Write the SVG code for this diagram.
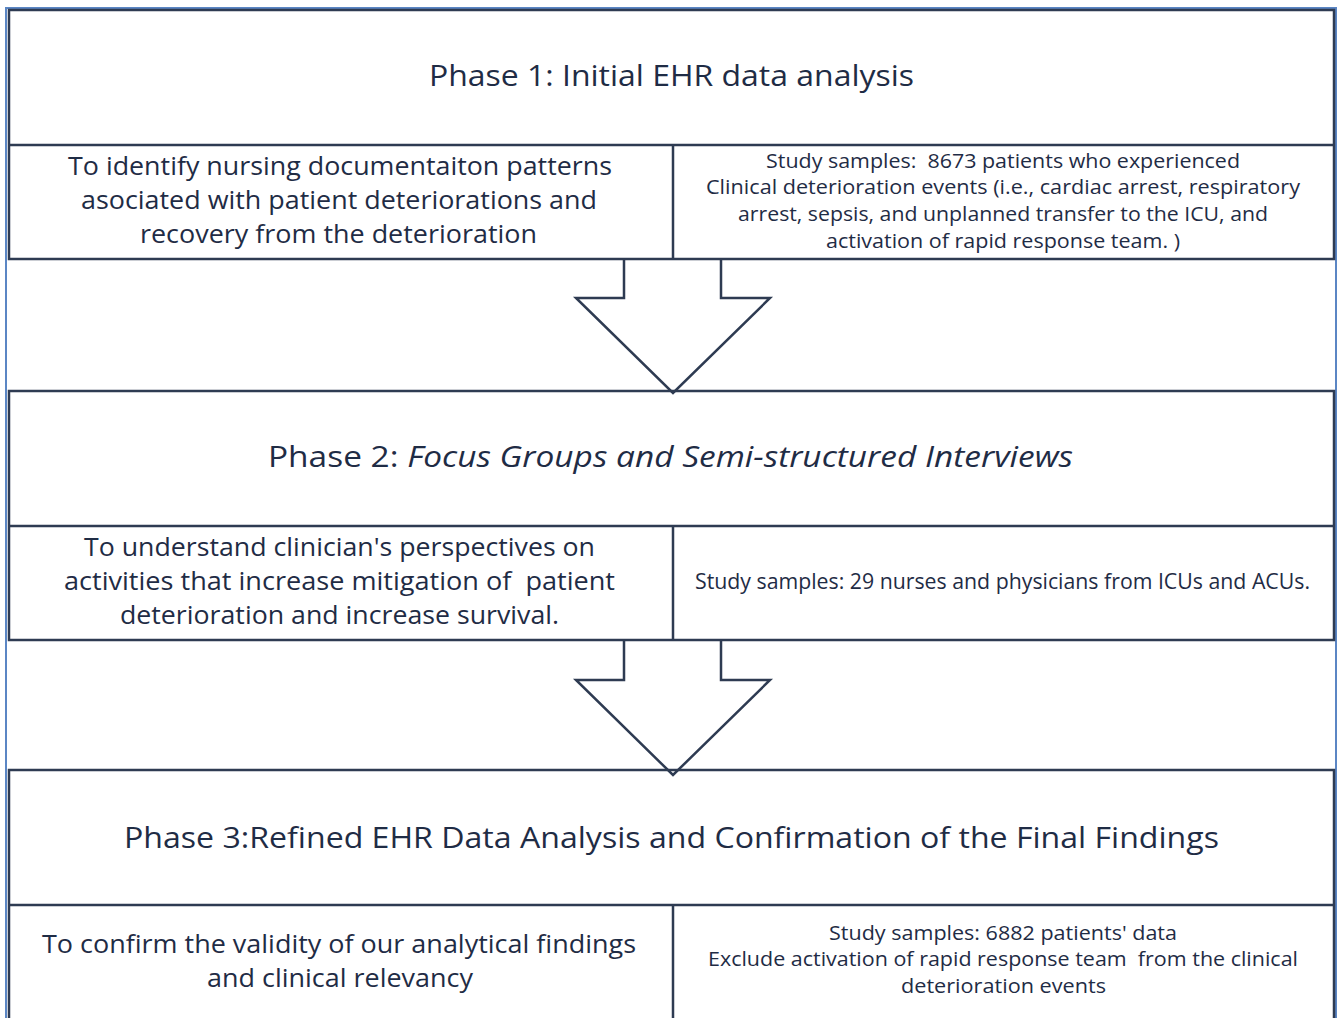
<svg xmlns="http://www.w3.org/2000/svg" width="1342" height="1018" viewBox="0 0 1342 1018">
<style>
.ln{fill:none;stroke:#2e3b52;stroke-width:2.5}
.blue{fill:none;stroke:#5b86c4;stroke-width:2}
.arrow{fill:#ffffff;stroke:#2e3b52;stroke-width:2.5;stroke-linejoin:miter}
text{font-family:"Open Sans","Noto Sans",sans-serif;fill:#1f2c45}
.t{font-size:30px}
.m{font-size:26px}
.s{font-size:21px}
.xs{font-size:20px}
.i{font-style:italic}
</style>
<rect width="1342" height="1018" fill="#ffffff"/>
<rect class="blue" x="6" y="8" width="1330" height="1020"/>
<g id="connectors">
<path class="arrow" d="M624,259 L624,298 L576,298 L673,393 L770,298 L721,298 L721,259"/>
<path class="arrow" d="M624,640 L624,680 L576,680 L673,775 L770,680 L721,680 L721,640"/>
</g>
<g id="phase1">
<rect class="ln" x="9" y="10" width="1325" height="249"/>
<line class="ln" x1="9" y1="145" x2="1334" y2="145"/>
<line class="ln" x1="673" y1="145" x2="673" y2="259"/>
<text class="t" x="429" y="86" textLength="485" lengthAdjust="spacingAndGlyphs">Phase 1: Initial EHR data analysis</text>
<text class="m" x="68" y="175" textLength="544" lengthAdjust="spacingAndGlyphs">To identify nursing documentaiton patterns</text>
<text class="m" x="81" y="209" textLength="516" lengthAdjust="spacingAndGlyphs">asociated with patient deteriorations and</text>
<text class="m" x="140" y="243" textLength="397" lengthAdjust="spacingAndGlyphs">recovery from the deterioration</text>
<text class="xs" x="766" y="168" textLength="474" lengthAdjust="spacingAndGlyphs" xml:space="preserve">Study samples:  8673 patients who experienced</text>
<text class="xs" x="706" y="194" textLength="594" lengthAdjust="spacingAndGlyphs">Clinical deterioration events (i.e., cardiac arrest, respiratory</text>
<text class="xs" x="738" y="221" textLength="530" lengthAdjust="spacingAndGlyphs">arrest, sepsis, and unplanned transfer to the ICU, and</text>
<text class="xs" x="826" y="248" textLength="354" lengthAdjust="spacingAndGlyphs">activation of rapid response team. )</text>
</g>
<g id="phase2">
<rect class="ln" x="9" y="391" width="1325" height="249"/>
<line class="ln" x1="9" y1="526" x2="1334" y2="526"/>
<line class="ln" x1="673" y1="526" x2="673" y2="640"/>
<text class="t" x="268" y="467" textLength="805" lengthAdjust="spacingAndGlyphs">Phase 2: <tspan class="i">Focus Groups and Semi-structured Interviews</tspan></text>
<text class="m" x="84" y="556" textLength="511" lengthAdjust="spacingAndGlyphs">To understand clinician's perspectives on</text>
<text class="m" x="64" y="590" textLength="551" lengthAdjust="spacingAndGlyphs" xml:space="preserve">activities that increase mitigation of  patient</text>
<text class="m" x="120" y="624" textLength="439" lengthAdjust="spacingAndGlyphs">deterioration and increase survival.</text>
<text class="s" x="695" y="589" textLength="615" lengthAdjust="spacingAndGlyphs">Study samples: 29 nurses and physicians from ICUs and ACUs.</text>
</g>
<g id="phase3">
<rect class="ln" x="9" y="770" width="1325" height="260"/>
<line class="ln" x1="9" y1="905" x2="1334" y2="905"/>
<line class="ln" x1="673" y1="905" x2="673" y2="1018"/>
<text class="t" x="124" y="848" textLength="1095" lengthAdjust="spacingAndGlyphs">Phase 3:Refined EHR Data Analysis and Confirmation of the Final Findings</text>
<text class="m" x="42" y="953" textLength="594" lengthAdjust="spacingAndGlyphs">To confirm the validity of our analytical findings</text>
<text class="m" x="207" y="987" textLength="266" lengthAdjust="spacingAndGlyphs">and clinical relevancy</text>
<text class="xs" x="829" y="940" textLength="348" lengthAdjust="spacingAndGlyphs">Study samples: 6882 patients' data</text>
<text class="xs" x="708" y="966" textLength="590" lengthAdjust="spacingAndGlyphs" xml:space="preserve">Exclude activation of rapid response team  from the clinical</text>
<text class="xs" x="901" y="993" textLength="205" lengthAdjust="spacingAndGlyphs">deterioration events</text>
</g>
</svg>
